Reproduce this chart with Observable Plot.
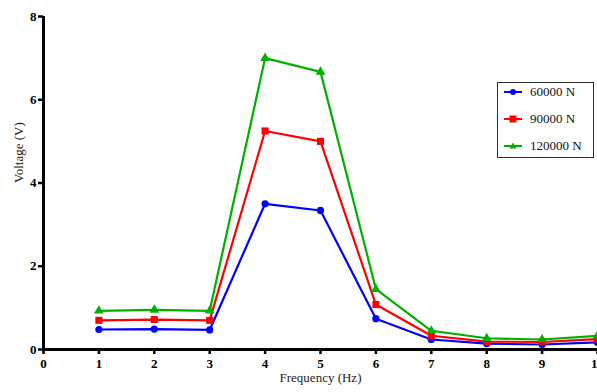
<!DOCTYPE html>
<html><head><meta charset="utf-8">
<script src="https://cdn.jsdelivr.net/npm/d3@7"></script>
<script src="https://cdn.jsdelivr.net/npm/@observablehq/plot@0.6"></script>
<style>
html,body{margin:0;padding:0;background:#fff;overflow:hidden;width:597px;height:392px;}
#wrap{position:relative;width:597px;height:392px;font-family:'Liberation Serif',serif;}
#legend{position:absolute;left:497px;top:82px;width:97px;height:76px;border:1px solid #333;background:#fff;box-sizing:border-box;font-size:13px;font-family:'Liberation Serif',serif;color:#111;}
.item{position:absolute;left:6px;height:14px;display:flex;align-items:center;white-space:nowrap;}
.item span{margin-left:8px;}
</style></head>
<body><div id="wrap"><div id="chart"></div><div id="legend"></div></div>
<script>
const frequency = [1, 2, 3, 4, 5, 6, 7, 8, 9, 10];
const v60000 = [0.48, 0.49, 0.47, 3.50, 3.34, 0.74, 0.24, 0.14, 0.12, 0.17];
const v90000 = [0.70, 0.72, 0.70, 5.25, 5.00, 1.08, 0.33, 0.19, 0.18, 0.25];
const v120000 = [0.93, 0.95, 0.93, 7.00, 6.67, 1.45, 0.45, 0.27, 0.24, 0.33];
const seriesNames = ["60000 N", "90000 N", "120000 N"];
const seriesColors = ["#0000ff", "#ff0000", "#00b000"];
const xTicks = [0,1,2,3,4,5,6,7,8,9,10];
const yTicks = [0,2,4,6,8];

const allValues = [v60000, v90000, v120000];
const data = [];
allValues.forEach((vals, si) => vals.forEach((v, i) => data.push({f: frequency[i], v, s: seriesNames[si]})));

const font = "Liberation Serif";
const chart = Plot.plot({
  width: 597, height: 392,
  marginLeft: 43, marginRight: 0, marginTop: 16, marginBottom: 43,
  style: {fontFamily: font, fontSize: "13px", color: "#000", background: "#fff", overflow: "hidden"},
  x: {domain: [0, 10]},
  y: {domain: [0, 8]},
  color: {domain: seriesNames, range: seriesColors},
  marks: [
    Plot.line(data, {x: "f", y: "v", z: "s", stroke: "s", strokeWidth: 2.2}),
    Plot.dot(data.filter(d => d.s === "60000 N"), {x: "f", y: "v", fill: "s", r: 3.6, symbol: "circle"}),
    Plot.dot(data.filter(d => d.s === "90000 N"), {x: "f", y: "v", fill: "s", r: 4.0, symbol: "square"}),
    Plot.dot(data.filter(d => d.s === "120000 N"), {x: "f", y: "v", fill: "s", r: 3.6, symbol: "triangle"}),
    Plot.axisX({ticks: xTicks, tickSize: 5, strokeWidth: 2.5, tickPadding: 4, fontWeight: "bold", fontSize: 13, label: null, fontFamily: font}),
    Plot.axisY({ticks: yTicks, tickSize: 5, strokeWidth: 2.5, tickPadding: 2, fontWeight: "bold", fontSize: 13, label: null, fontFamily: font}),
    Plot.ruleY([0], {strokeWidth: 3, stroke: "#000"}),
    Plot.ruleX([0], {strokeWidth: 3, stroke: "#000"}),
    Plot.text(["Frequency (Hz)"], {frameAnchor: "bottom", dy: 32, fontSize: 13, fill: "#222", fontFamily: font}),
    Plot.text(["Voltage (V)"], {frameAnchor: "left", dx: -25, rotate: -90, fontSize: 13, fill: "#222", fontFamily: font})
  ]
});
document.getElementById("chart").appendChild(chart);

const leg = document.getElementById("legend");
const tops = [2, 29, 56];
seriesNames.forEach((name, i) => {
  const it = document.createElement("div");
  it.className = "item";
  it.style.top = tops[i] + "px";
  let sym = "";
  if (i === 0) sym = `<circle cx="9" cy="7" r="3" fill="${seriesColors[i]}"/>`;
  if (i === 1) sym = `<rect x="5.5" y="3.5" width="7" height="7" fill="${seriesColors[i]}"/>`;
  if (i === 2) sym = `<path d="M9,3.5L12.5,9.5L5.5,9.5Z" fill="${seriesColors[i]}"/>`;
  it.innerHTML = `<svg width="18" height="14"><line x1="0" x2="18" y1="7" y2="7" stroke="${seriesColors[i]}" stroke-width="2"/>${sym}</svg><span>${name}</span>`;
  leg.appendChild(it);
});
</script></body></html>
